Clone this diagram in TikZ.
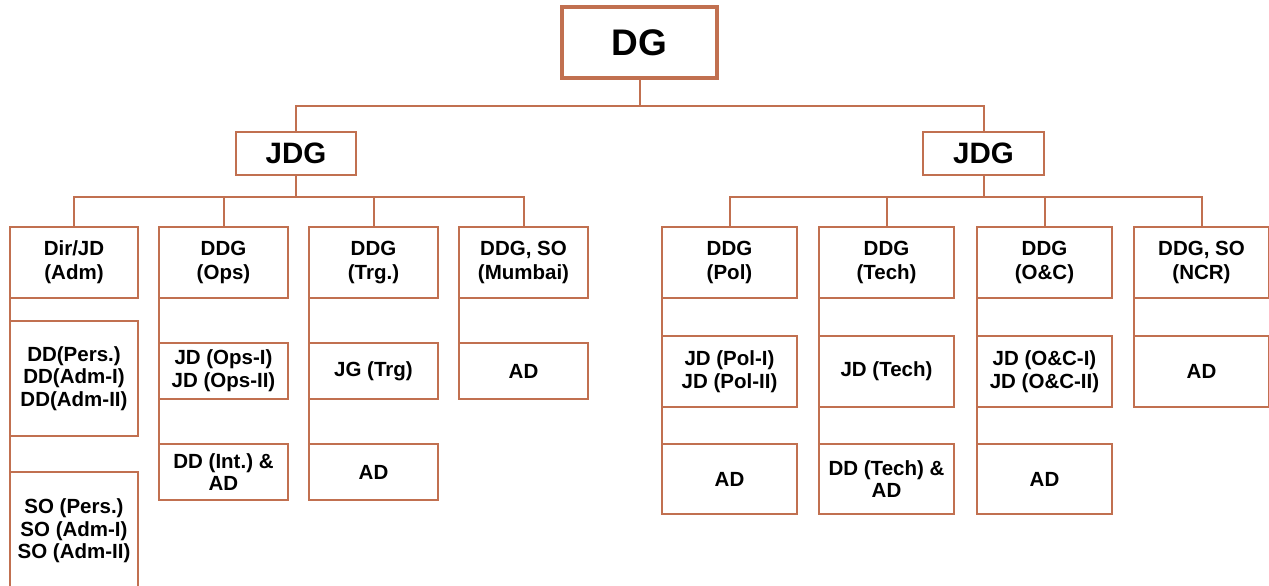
\documentclass[tikz,border=0pt]{standalone}
\usepackage{fontspec}
\setmainfont{Liberation Sans}
\definecolor{boxc}{RGB}{193,112,80}
\tikzset{
  orgbox/.style={draw=boxc, line width=2pt, fill=white, inner sep=0pt, outer sep=0pt, align=center,
    font=\frenchspacing\bfseries\fontsize{20.5}{22.8}\selectfont},
  headbox/.style={orgbox, minimum height=71pt, font=\frenchspacing\bfseries\fontsize{20.5}{24}\selectfont},
  link/.style={draw=boxc, line width=2pt},
}
\begin{document}
\begin{tikzpicture}[x=1pt,y=-1pt]
\useasboundingbox (0,0) rectangle (1269,586);
\clip (0,0) rectangle (1269,586);
\fill[white] (0,0) rectangle (1269,586);
% top levels
\node[orgbox, line width=4pt, minimum width=155pt, minimum height=71pt, font=\bfseries\fontsize{37}{40}\selectfont] (dg) at (639.5,43) {DG};
\node[orgbox, minimum width=120pt, minimum height=43pt, font=\bfseries\fontsize{29.5}{32}\selectfont] (jdgL) at (296,153.5) {JDG};
\node[orgbox, minimum width=121pt, minimum height=43pt, font=\bfseries\fontsize{29.5}{32}\selectfont] (jdgR) at (983.5,153.5) {JDG};
\coordinate (topbus) at (0,106);
\coordinate (bus) at (0,197);
% left column heads
\node[headbox, minimum width=128pt] (c1) at (74,262.5) {Dir/JD\\(Adm)};
\node[headbox, minimum width=129pt] (c2) at (223.5,262.5) {DDG\\(Ops)};
\node[headbox, minimum width=129pt] (c3) at (373.5,262.5) {DDG\\(Trg.)};
\node[headbox, minimum width=129pt] (c4) at (523.5,262.5) {DDG, SO\\(Mumbai)};
% right column heads
\node[headbox, minimum width=135pt] (c5) at (729.5,262.5) {DDG\\(Pol)};
\node[headbox, minimum width=135pt] (c6) at (886.5,262.5) {DDG\\(Tech)};
\node[headbox, minimum width=135pt] (c7) at (1044.5,262.5) {DDG\\(O\&C)};
\node[headbox, minimum width=135pt] (c8) at (1201.5,262.5) {DDG, SO\\(NCR)};
% sub boxes left
\node[orgbox, minimum width=128pt, minimum height=115pt] (c1b) at (74,378.5) {DD(Pers.)\\DD(Adm-I)\\DD(Adm-II)};
\node[orgbox, minimum width=128pt, minimum height=118pt] (c1c) at (74,531) {\raisebox{3pt}{\shortstack{SO (Pers.)\\[0.3pt]SO (Adm-I)\\[0.3pt]SO (Adm-II)}}};
\node[orgbox, minimum width=129pt, minimum height=56pt] (c2b) at (223.5,371) {JD (Ops-I)\\JD (Ops-II)};
\node[orgbox, minimum width=129pt, minimum height=56pt] (c2c) at (223.5,472) {DD (Int.) \&\\AD};
\node[orgbox, minimum width=129pt, minimum height=56pt] (c3b) at (373.5,371) {JG (Trg)};
\node[orgbox, minimum width=129pt, minimum height=56pt] (c3c) at (373.5,472) {AD};
\node[orgbox, minimum width=129pt, minimum height=56pt] (c4b) at (523.5,371) {AD};
% sub boxes right
\node[orgbox, minimum width=135pt, minimum height=71pt] (c5b) at (729.5,371.5) {JD (Pol-I)\\JD (Pol-II)};
\node[orgbox, minimum width=135pt, minimum height=70pt] (c5c) at (729.5,479) {AD};
\node[orgbox, minimum width=135pt, minimum height=71pt] (c6b) at (886.5,371.5) {JD (Tech)};
\node[orgbox, minimum width=135pt, minimum height=70pt] (c6c) at (886.5,479) {DD (Tech) \&\\AD};
\node[orgbox, minimum width=135pt, minimum height=71pt] (c7b) at (1044.5,371.5) {JD (O\&C-I)\\JD (O\&C-II)};
\node[orgbox, minimum width=135pt, minimum height=70pt] (c7c) at (1044.5,479) {AD};
\node[orgbox, minimum width=135pt, minimum height=71pt] (c8b) at (1201.5,371.5) {AD};
% connectors top
\draw[link] (dg.south) -- (dg.south |- topbus);
\draw[link] (jdgL.north) -- (jdgL.north |- topbus) -- (jdgR.north |- topbus) -- (jdgR.north);
\draw[link] (jdgL.south) -- (jdgL.south |- bus);
\draw[link] (jdgR.south) -- (jdgR.south |- bus);
\draw[link] (c1.north) -- (c1.north |- bus) -- (c4.north |- bus) -- (c4.north);
\draw[link] (c2.north) -- (c2.north |- bus);
\draw[link] (c3.north) -- (c3.north |- bus);
\draw[link] (c5.north) -- (c5.north |- bus) -- (c8.north |- bus) -- (c8.north);
\draw[link] (c6.north) -- (c6.north |- bus);
\draw[link] (c7.north) -- (c7.north |- bus);
% column spines along left edges
\draw[link] (c1.south west) -- (c1b.north west);
\draw[link] (c1b.south west) -- (c1c.north west);
\draw[link] (c2.south west) -- (c2b.north west);
\draw[link] (c2b.south west) -- (c2c.north west);
\draw[link] (c3.south west) -- (c3b.north west);
\draw[link] (c3b.south west) -- (c3c.north west);
\draw[link] (c4.south west) -- (c4b.north west);
\draw[link] (c5.south west) -- (c5b.north west);
\draw[link] (c5b.south west) -- (c5c.north west);
\draw[link] (c6.south west) -- (c6b.north west);
\draw[link] (c6b.south west) -- (c6c.north west);
\draw[link] (c7.south west) -- (c7b.north west);
\draw[link] (c7b.south west) -- (c7c.north west);
\draw[link] (c8.south west) -- (c8b.north west);
\end{tikzpicture}
\end{document}
